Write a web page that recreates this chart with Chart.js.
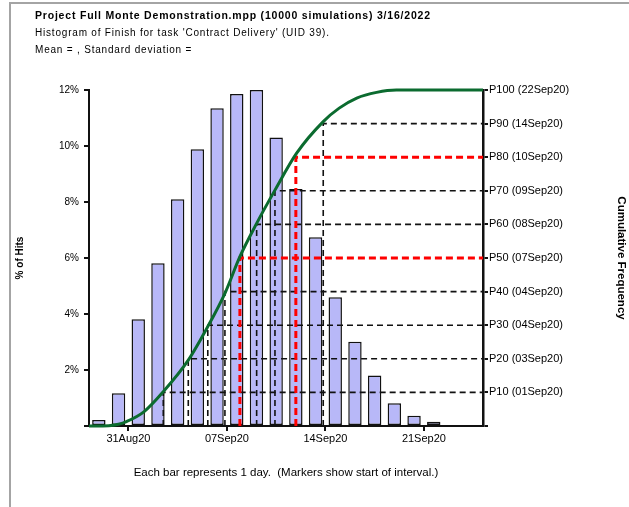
<!DOCTYPE html>
<html>
<head>
<meta charset="utf-8">
<script src="https://cdn.jsdelivr.net/npm/chart.js@4.4.1/dist/chart.umd.min.js"></script>
<style>
    body { margin: 0; background: #fff; }
    #marco {
        position: absolute; left: 9px; top: 2px; width: 640px; height: 520px;
        border-left: 2px solid #a4a4a4; border-top: 2px solid #a4a4a4;
    }
    #contenedor { position: absolute; left: 0; top: 0; width: 629px; height: 507px; }
    .cab {
        position: absolute; left: 35px; color: #000; white-space: nowrap;
        font-family: 'Liberation Sans', Arial, sans-serif; letter-spacing: 0.8px;
    }
</style>
</head>
<body>
<div id="marco"></div>
<div id="contenedor"><canvas id="graficoHistograma" width="629" height="507"></canvas></div>
<div class="cab" style="top:9px; font-size:10.5px; font-weight:bold;">Project Full Monte Demonstration.mpp (10000 simulations) 3/16/2022</div>
<div class="cab" style="top:27px; font-size:10px;">Histogram of Finish for task 'Contract Delivery' (UID 39).</div>
<div class="cab" style="top:44px; font-size:10px;">Mean = , Standard deviation =</div>

<script>
// ===================================== Datos del histograma ==================
// % de simulaciones por dia (una barra = 1 dia)
const barras = [0.21, 1.17, 3.81, 5.81, 8.1, 9.88, 11.35, 11.86, 12.0, 10.3,
                8.46, 6.74, 4.6, 3.01, 1.8, 0.81, 0.37, 0.15, 0.03, 0.02];

// marcas del eje x (inicio de intervalo)
const diasMarcas = [2, 7, 12, 17];
const etiquetasMarcas = ['31Aug20', '07Sep20', '14Sep20', '21Sep20'];

// curva de frecuencia acumulada
const curvaDias = [0, 1, 1.5, 1.9, 2.8, 3.77, 5.04, 6.03, 6.9, 7.66, 8.51, 9.44, 10.54, 11.89, 12.7, 13.59, 14.6, 15.6, 20];
const curvaPct  = [0, 0.1, 0.5, 1.3, 4.3, 10.2, 19.6, 29.6, 39.5, 50.4, 60.3, 70.2, 81.2, 90.6, 94.6, 97.6, 99.3, 100, 100];

// percentiles (eje derecho)
const etiquetasP = ['P10 (01Sep20)', 'P20 (03Sep20)', 'P30 (04Sep20)', 'P40 (04Sep20)', 'P50 (07Sep20)',
                    'P60 (08Sep20)', 'P70 (09Sep20)', 'P80 (10Sep20)', 'P90 (14Sep20)', 'P100 (22Sep20)'];
const nivelesP = [10, 20, 30, 40, 50, 60, 70, 80, 90];
const diasPercentil = [3.77, 5.04, 6.03, 6.9, 7.66, 8.51, 9.44, 10.5, 11.89];
const destacados = [50, 80];

const totalDias = barras.length;
const fuente = "'Liberation Sans', Arial, sans-serif";


// ===================================== Datasets ==================
var datasets = [];

datasets.push({
    type: 'line',
    label: 'Acumulada',
    yAxisID: 'y2',
    data: curvaDias.map((d, i) => ({ x: d, y: curvaPct[i] })),
    borderColor: '#0b6b2f',
    borderWidth: 3,
    pointRadius: 0,
    cubicInterpolationMode: 'monotone',
    fill: false,
    clip: false,
    order: 0
});

nivelesP.forEach((p, i) => {
    const rojo = destacados.includes(p);
    datasets.push({
        type: 'line',
        label: 'P' + p,
        yAxisID: 'y2',
        data: [
            { x: diasPercentil[i], y: 0 },
            { x: diasPercentil[i], y: p },
            { x: totalDias, y: p }
        ],
        borderColor: rojo ? '#ff0000' : '#111',
        borderWidth: rojo ? 3 : 1.6,
        borderDash: rojo ? [7, 4] : [6, 4],
        pointRadius: 0,
        tension: 0,
        fill: false,
        clip: false,
        order: rojo ? 1 : 2
    });
});

datasets.push({
    type: 'bar',
    label: '% of Hits',
    yAxisID: 'y',
    data: barras.map((v, i) => ({ x: i + 0.5, y: v })),
    backgroundColor: '#b8b8f8',
    borderColor: '#111',
    borderWidth: 1.5,
    borderSkipped: false,
    barPercentage: 0.68,
    categoryPercentage: 1,
    order: 3
});


// ===================================== Grafico ==================
var chartHistograma = new Chart(document.getElementById('graficoHistograma'), {
    type: 'bar',
    data: { datasets: datasets },
    options: {
        responsive: false,
        animation: false,
        layout: { padding: { top: 90, left: 0, right: 0, bottom: 0 } },
        plugins: {
            legend: { display: false },
            tooltip: { enabled: false }
        },
        scales: {
            x: {
                type: 'linear',
                min: 0,
                max: totalDias,
                offset: false,
                afterBuildTicks: s => { s.ticks = diasMarcas.map(v => ({ value: v })); },
                afterFit: s => { s.height = 81; },
                ticks: {
                    autoSkip: false,
                    maxRotation: 0,
                    padding: 1,
                    color: '#000',
                    font: { family: fuente, size: 11 },
                    callback: v => etiquetasMarcas[diasMarcas.indexOf(v)]
                },
                grid: { offset: false, drawOnChartArea: false, drawTicks: true, tickLength: 5, tickColor: '#111', lineWidth: 2 },
                border: { display: true, color: '#111', width: 2 },
                title: {
                    display: true,
                    text: 'Each bar represents 1 day.  (Markers show start of interval.)',
                    color: '#000',
                    font: { family: fuente, size: 11.5 },
                    padding: { top: 0, bottom: 27 }
                }
            },
            y: {
                position: 'left',
                min: 0,
                max: 12,
                afterFit: s => { s.width = 89; },
                ticks: {
                    stepSize: 2,
                    padding: 5,
                    color: '#000',
                    font: { family: fuente, size: 10 },
                    callback: v => v === 0 ? '' : v + '%'
                },
                grid: { drawOnChartArea: false, drawTicks: true, tickLength: 5, tickColor: '#111', lineWidth: 2 },
                border: { display: true, color: '#111', width: 2 },
                title: {
                    display: true,
                    text: '% of Hits',
                    color: '#000',
                    font: { family: fuente, size: 10, weight: 'bold' },
                    padding: { top: 14, bottom: 0 }
                }
            },
            y2: {
                position: 'right',
                min: 0,
                max: 100,
                afterFit: s => { s.width = 146; },
                ticks: {
                    stepSize: 10,
                    padding: 1,
                    color: '#000',
                    font: { family: fuente, size: 11 },
                    callback: v => v === 0 ? '' : etiquetasP[v / 10 - 1]
                },
                grid: { drawOnChartArea: false, drawTicks: true, tickLength: 5, tickColor: '#111', lineWidth: 2 },
                border: { display: true, color: '#111', width: 2.5, dash: [6, 3] },
                title: {
                    display: true,
                    text: 'Cumulative Frequency',
                    color: '#000',
                    font: { family: fuente, size: 11.5, weight: 'bold' },
                    padding: { top: 1, bottom: 0 }
                }
            }
        }
    }
});
</script>
</body>
</html>
